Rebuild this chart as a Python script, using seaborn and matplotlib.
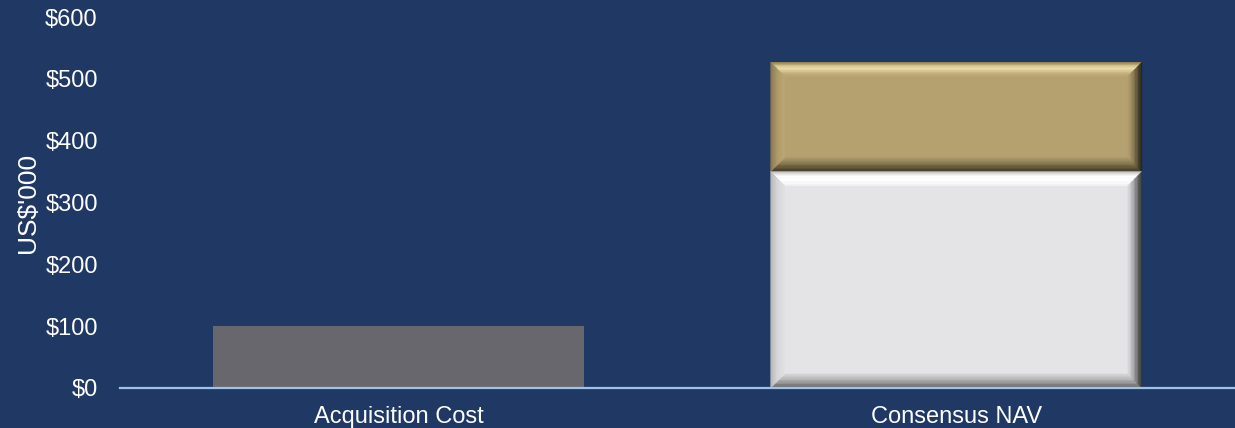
import numpy as np
import pandas as pd
import matplotlib
matplotlib.use("Agg")
import matplotlib.pyplot as plt
from matplotlib.patches import Polygon
from matplotlib.transforms import IdentityTransform
from matplotlib.colors import to_rgb
import seaborn as sns

# ---- data ----
categories = ["Acquisition Cost", "Consensus NAV"]
base_values = [100, 350]          # gray acquisition cost, white NAV base
upside_values = [0, 177]          # gold NAV upside stacked on top
y_ticks = [0, 100, 200, 300, 400, 500, 600]
y_tick_labels = ["$0", "$100", "$200", "$300", "$400", "$500", "$600"]
y_label = "US$'000"

BG = "#1F3864"
GRAY = "#67676D"
WHITE = "#E4E4E6"
GOLD = "#B5A170"
AXIS = "#9DC3E6"
TXT = "#FFFFFF"

sns.set_theme(style="white")
plt.rcParams["font.family"] = ["Liberation Sans", "DejaVu Sans"]

fig = plt.figure(figsize=(12.35, 4.28), dpi=100, facecolor=BG)
ax = fig.add_axes([0.0972, 0.0935, 0.9028, 0.8665])
ax.set_facecolor(BG)

totals = [b + u for b, u in zip(base_values, upside_values)]
df_tot = pd.DataFrame({"cat": categories, "val": totals})
df_base = pd.DataFrame({"cat": categories[1:], "val": base_values[1:]})

W = 0.666
sns.barplot(data=df_tot, x="cat", y="val", order=categories, hue="cat",
            palette=[GRAY, GOLD], width=W, ax=ax, legend=False,
            saturation=1, linewidth=0, errorbar=None)
n_tot = len(ax.patches)
sns.barplot(data=df_base, x="cat", y="val", order=categories, color=WHITE,
            width=W, ax=ax, saturation=1, linewidth=0, errorbar=None)

patches = list(ax.patches)
gold_patch = patches[1]
white_patch = patches[n_tot]

ax.set_ylim(0, 600)
ax.set_xlim(-0.5, 1.5)
ax.set_yticks(y_ticks)
ax.set_yticklabels(y_tick_labels)
ax.set_xlabel("")
ax.set_ylabel(y_label, color=TXT, fontsize=19, labelpad=4)
ax.tick_params(axis="both", colors=TXT, labelsize=17, length=0)
ax.tick_params(axis="y", pad=16)
ax.tick_params(axis="x", pad=13)
for lab in ax.get_xticklabels() + ax.get_yticklabels():
    lab.set_color(TXT)
for s in ["top", "right", "left"]:
    ax.spines[s].set_visible(False)
ax.spines["bottom"].set_color(AXIS)
ax.spines["bottom"].set_linewidth(1.6)
ax.spines["bottom"].set_zorder(10)

fig.canvas.draw()


def lerp_colors(stops, n):
    stops = np.array([to_rgb(c) for c in stops])
    pos = np.linspace(0, 1, len(stops))
    out = []
    for t in np.linspace(0, 1, n):
        out.append(tuple(np.interp(t, pos, stops[:, k]) for k in range(3)))
    return out


def bevel(x0, x1, y0, y1, b, cols, n=10):
    # display coords, y up
    edges = np.linspace(0, b, n + 1)
    for side in ["top", "bottom", "left", "right"]:
        colors = lerp_colors(cols[side], n)
        for i in range(n):
            a, c = edges[i], edges[i + 1]
            if side == "top":
                pts = [(x0 + a, y1 - a), (x1 - a, y1 - a), (x1 - c, y1 - c), (x0 + c, y1 - c)]
            elif side == "bottom":
                pts = [(x0 + a, y0 + a), (x1 - a, y0 + a), (x1 - c, y0 + c), (x0 + c, y0 + c)]
            elif side == "left":
                pts = [(x0 + a, y0 + a), (x0 + a, y1 - a), (x0 + c, y1 - c), (x0 + c, y0 + c)]
            else:
                pts = [(x1 - a, y0 + a), (x1 - a, y1 - a), (x1 - c, y1 - c), (x1 - c, y0 + c)]
            ax.add_patch(Polygon(pts, closed=True, transform=IdentityTransform(),
                                 facecolor=colors[i], edgecolor=colors[i], lw=0.3, zorder=5))


def disp_box(x_left, x_right, y_bot, y_top):
    p0 = ax.transData.transform((x_left, y_bot))
    p1 = ax.transData.transform((x_right, y_top))
    return p0[0], p1[0], p0[1], p1[1]


b_px = 14
# gold visible segment
gx = gold_patch.get_x()
gx0, gx1, gy0, gy1 = disp_box(gx, gx + gold_patch.get_width(),
                              white_patch.get_height(), gold_patch.get_height())
bevel(gx0, gx1, gy0, gy1, b_px, {
    "top": ["#8F7D50", "#DCCB95", "#EDDFAE", "#CDBA86", "#BBA775"],
    "bottom": ["#3F3926", "#625839", "#8C7C54", "#A8956A"],
    "left": ["#8A7950", "#AD9A6A", "#BBA776"],
    "right": ["#201D14", "#5A5036", "#8E7D55", "#AE9B6C"],
})
wx = white_patch.get_x()
wx0, wx1, wy0, wy1 = disp_box(wx, wx + white_patch.get_width(),
                              0, white_patch.get_height())
bevel(wx0, wx1, wy0, wy1, b_px, {
    "top": ["#C8C8C8", "#FFFFFF", "#FFFFFF", "#F4F4F4"],
    "bottom": ["#5E5E5E", "#8E8E8E", "#B5B5B5", "#D2D2D4"],
    "left": ["#B8B8B8", "#D6D6D8", "#E0E0E2"],
    "right": ["#2E2E2E", "#6E6E6E", "#ABABAD", "#D6D6D8"],
})

fig.savefig("out.png", dpi=100, facecolor=BG)
